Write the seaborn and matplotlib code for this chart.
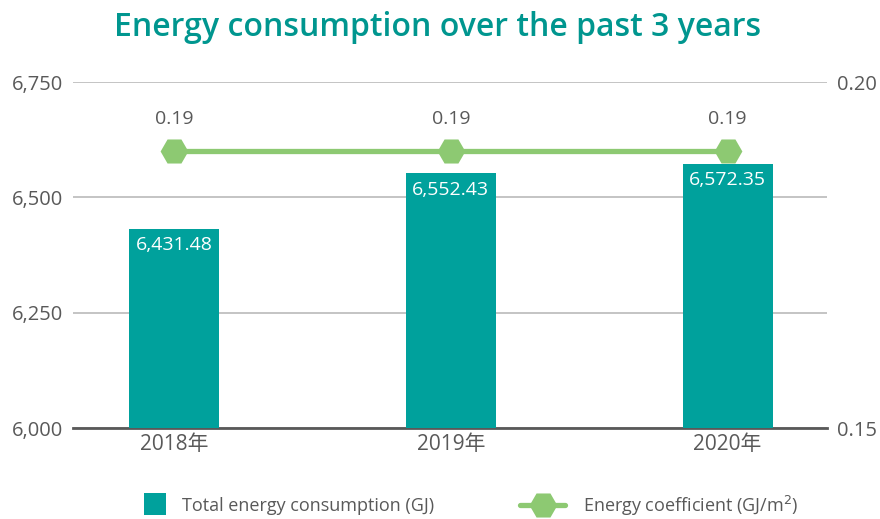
import matplotlib
matplotlib.use("Agg")
import matplotlib.pyplot as plt
from matplotlib.lines import Line2D
from matplotlib.ticker import FuncFormatter
import seaborn as sns
import pandas as pd

years = ["2018年", "2019年", "2020年"]
consumption = [6431.48, 6552.43, 6572.35]
coefficient = [0.19, 0.19, 0.19]

left_ticks = [6000, 6250, 6500, 6750]
right_ticks = [0.15, 0.20]

TEAL = "#00A19C"
GREEN = "#8DC972"
GRID = "#BFBFBF"
TEXT = "#595959"

sns.set_theme(style="white")
plt.rcParams["font.family"] = ["Open Sans", "Noto Sans CJK SC", "DejaVu Sans"]

fig = plt.figure(figsize=(8.8, 5.19), dpi=100)
ax = fig.add_axes([0.083, 0.175, 0.857, 0.667])

df = pd.DataFrame({"year": years, "consumption": consumption, "coefficient": coefficient})
sns.barplot(data=df, x="year", y="consumption", color=TEAL, saturation=1,
            width=0.325, ax=ax, zorder=3, edgecolor="none")

ax.set_ylim(6000, 6750)
ax.set_xlim(-0.365, 2.36)
ax.set_yticks(left_ticks)
ax.yaxis.set_major_formatter(FuncFormatter(lambda v, p: f"{v:,.0f}"))
ax.grid(axis="y", color=GRID, linewidth=1.3, zorder=0)
ax.set_axisbelow(True)
for s in ["top", "right", "left"]:
    ax.spines[s].set_visible(False)
ax.spines["bottom"].set_color(TEXT)
ax.spines["bottom"].set_linewidth(2)
ax.set_xlabel("")
ax.set_ylabel("")
ax.tick_params(axis="y", length=0, labelsize=14.5, labelcolor=TEXT, pad=7)
ax.tick_params(axis="x", length=0, labelsize=15, labelcolor=TEXT, pad=4)

for i, v in enumerate(consumption):
    ax.text(i, v - 16, f"{v:,.2f}", ha="center", va="top", color="white",
            fontsize=14, zorder=5)

ax2 = ax.twinx()
sns.lineplot(x=list(range(len(years))), y=coefficient, ax=ax2, color=GREEN,
             linewidth=3.8, marker="H", markersize=20, markeredgewidth=0,
             zorder=4)
ax2.set_ylim(0.15, 0.20)
ax2.set_yticks(right_ticks)
ax2.yaxis.set_major_formatter(FuncFormatter(lambda v, p: f"{v:.2f}"))
ax2.tick_params(axis="y", length=0, labelsize=14.5, labelcolor=TEXT, pad=7)
for s in ["top", "right", "left", "bottom"]:
    ax2.spines[s].set_visible(False)
ax2.grid(False)
ax2.set_xlim(-0.365, 2.36)

for i, v in enumerate(coefficient):
    ax2.annotate(f"{v:.2f}", (i, v), xytext=(0, 17), textcoords="offset points",
                 ha="center", va="bottom", fontsize=14, color=TEXT)

fig.suptitle("Energy consumption over the past 3 years", x=0.497, y=0.978,
             fontsize=23, color="#00968F", fontweight="semibold")

# Legend: a square swatch for the bars, a line-with-marker for the coefficient
bar_handle = Line2D([0], [0], linestyle="none", marker="s", markersize=16,
                    color=TEAL, markeredgewidth=0)
line_handle = Line2D([0], [0], color=GREEN, linewidth=3.8, marker="H",
                     markersize=20, markeredgewidth=0)
leg1 = fig.legend([bar_handle], ["Total energy consumption (GJ)"],
                  loc="center left", bbox_to_anchor=(0.163, 0.026),
                  frameon=False, fontsize=13, labelcolor=TEXT,
                  handlelength=1.25, handletextpad=0.9, borderpad=0,
                  borderaxespad=0)
leg2 = fig.legend([line_handle], ["Energy coefficient (GJ/m$^2$)"],
                  loc="center left", bbox_to_anchor=(0.591, 0.026),
                  frameon=False, fontsize=13, labelcolor=TEXT,
                  handlelength=2.5, handletextpad=1.0, borderpad=0,
                  borderaxespad=0)

fig.savefig("out.png", dpi=100)
